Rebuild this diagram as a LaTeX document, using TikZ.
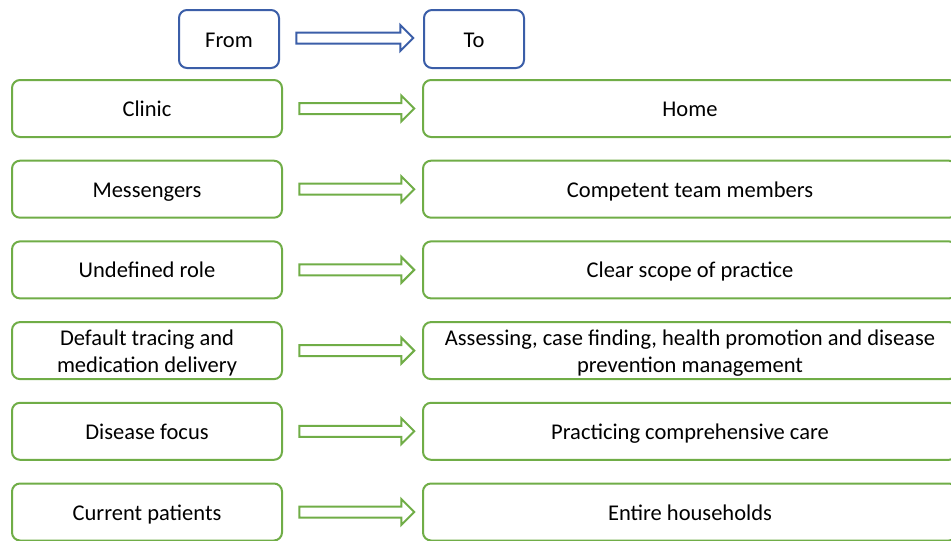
\documentclass[tikz,border=0pt]{standalone}
\usepackage{fontspec}
\setmainfont{Carlito}
\usetikzlibrary{shapes.arrows,calc}
\definecolor{shiftgreen}{RGB}{112,173,71}
\definecolor{shiftblue}{RGB}{59,94,168}
\tikzset{
  box/.style={draw=shiftgreen, line width=2pt, rounded corners=8pt, fill=white,
    minimum height=57pt, align=center, text height=19pt, text depth=3pt,
    font=\fontsize{22.5}{27}\selectfont},
  oneline/.style={},
  twoline/.style={text height=46pt},
  frombox/.style={box, minimum width=270pt},
  tobox/.style={box, minimum width=534pt},
  headbox/.style={box, draw=shiftblue, minimum width=100pt, minimum height=58pt},
  shiftarrow/.style={single arrow, draw=shiftgreen, line width=2pt, inner sep=4.5pt,
    minimum height=115pt, single arrow head extend=7.5pt}
}

\begin{document}
\begin{tikzpicture}[x=1pt,y=-1pt]
\useasboundingbox (0,0) rectangle (951,541);
% header
\node[headbox] (from) at (229,39) {From};
\node[headbox] (to) at (474,39) {To};
\node[shiftarrow, draw=shiftblue, minimum height=117pt] (h) at ($(from.east)!0.5!(to.west)+(0.5,-1)$) {};
% one row per change
\foreach \i/\lines/\old/\new in {
  1/oneline/Clinic/Home,
  2/oneline/Messengers/Competent team members,
  3/oneline/Undefined role/Clear scope of practice,
  4/twoline/{Default tracing and\\medication delivery}/{Assessing, case finding, health promotion and disease\\prevention management},
  5/oneline/Disease focus/Practicing comprehensive care,
  6/oneline/Current patients/Entire households}
{
  \node[frombox, \lines] (l\i) at (147,{108.5+80.7*(\i-1)}) {\old};
  \node[tobox, \lines] (r\i) at (690,{108.5+80.7*(\i-1)}) {\new};
  \node[shiftarrow] (a\i) at ($(l\i.east)!0.5!(r\i.west)+(1.5,0)$) {};
}
\end{tikzpicture}
\end{document}
